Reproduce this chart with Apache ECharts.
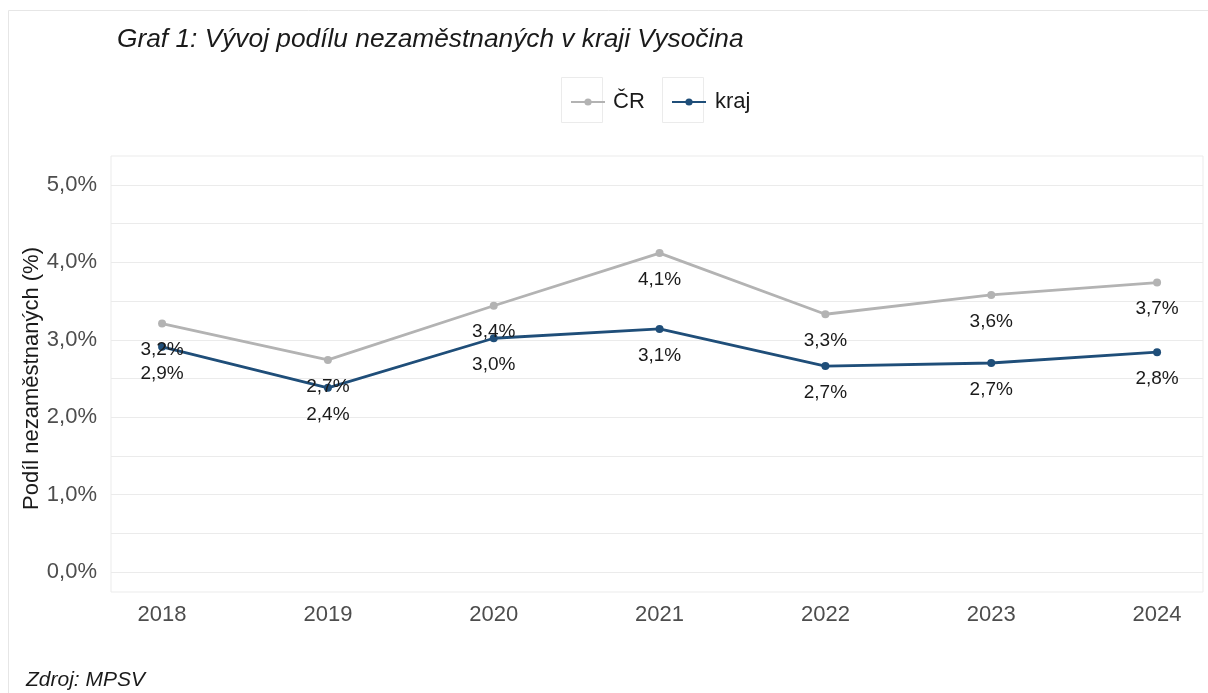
<!DOCTYPE html>
<html>
<head>
<meta charset="utf-8">
<script src="https://cdn.jsdelivr.net/npm/echarts@6/dist/echarts.min.js"></script>
<style>
  html, body { margin: 0; padding: 0; background: #fff; }
  #chart { width: 1208px; height: 693px; }
</style>
</head>
<body>
<div id="chart"></div>
<script>
// roky a podíl nezaměstnaných (%)
var years = [2018, 2019, 2020, 2021, 2022, 2023, 2024]
var crValues = [3.21, 2.74, 3.44, 4.12, 3.33, 3.58, 3.74]
var krajValues = [2.91, 2.38, 3.02, 3.14, 2.66, 2.70, 2.84]
var yTicks = [0, 1, 2, 3, 4, 5]

var fontFamily = 'Liberation Sans, Arial, sans-serif'

function pct(v) {
  return v.toFixed(1).replace('.', ',') + '%'
}

function pairs(vals) {
  return years.map(function (y, i) { return [y, vals[i]] })
}

var chart = echarts.init(document.getElementById('chart'))

var labelOpt = {
  show: true,
  position: 'bottom',
  distance: 13,
  fontSize: 19,
  color: '#1a1a1a',
  formatter: function (p) { return pct(p.value[1]) }
}

chart.setOption({
  animation: false,
  textStyle: { fontFamily: fontFamily },
  title: [{
    text: 'Graf 1: Vývoj podílu nezaměstnaných v kraji Vysočina',
    left: 112,
    top: 22,
    textStyle: { fontSize: 26.3, fontStyle: 'italic', fontWeight: 'normal', color: '#1a1a1a' }
  }, {
    text: 'Zdroj: MPSV',
    left: 21,
    top: 665,
    textStyle: { fontSize: 21, fontStyle: 'italic', fontWeight: 'normal', color: '#1a1a1a' }
  }],
  graphic: [
    // rámeček obrázku
    { type: 'rect', z: -10, shape: { x: 8.5, y: 10.5, width: 1210, height: 690 },
      style: { fill: 'none', stroke: '#e6e6e6', lineWidth: 1 } },
    // rámečky klíčů legendy
    { type: 'rect', z: -5, shape: { x: 561.5, y: 77.5, width: 41, height: 45 },
      style: { fill: '#fff', stroke: '#ebebeb', lineWidth: 1 } },
    { type: 'rect', z: -5, shape: { x: 662.5, y: 77.5, width: 41, height: 45 },
      style: { fill: '#fff', stroke: '#ebebeb', lineWidth: 1 } }
  ],
  legend: [{
    data: ['ČR'],
    left: 565,
    top: 84,
    itemWidth: 34,
    itemHeight: 9,
    textStyle: { fontSize: 22, color: '#1a1a1a', padding: [0, 0, 0, 3], lineHeight: 26 }
  }, {
    data: ['kraj'],
    left: 666,
    top: 84,
    itemWidth: 34,
    itemHeight: 9,
    textStyle: { fontSize: 22, color: '#1a1a1a', padding: [0, 0, 0, 4], lineHeight: 26 }
  }],
  grid: [{
    // datová oblast (osa y 0–5 %)
    left: 111, right: 5, top: 185, bottom: 121
  }, {
    // rámeček panelu
    left: 111, right: 5, top: 156, bottom: 101,
    show: true, borderColor: '#ebebeb', borderWidth: 1, backgroundColor: 'transparent'
  }],
  xAxis: [{
    gridIndex: 0,
    type: 'value',
    min: 2017.692,
    max: 2024.277,
    axisLine: { show: false },
    axisTick: { show: false },
    splitLine: { show: false },
    axisLabel: {
      customValues: years,
      fontSize: 22,
      color: '#4d4d4d',
      margin: 32,
      formatter: function (v) { return String(v) }
    }
  }, {
    gridIndex: 1, type: 'value', show: false
  }],
  yAxis: [{
    gridIndex: 0,
    type: 'value',
    min: 0,
    max: 5,
    interval: 0.5,
    name: 'Podíl nezaměstnaných (%)',
    nameLocation: 'middle',
    nameGap: 68,
    nameMoveOverlap: false,
    nameRotate: 90,
    nameTextStyle: { fontSize: 22, color: '#1a1a1a' },
    axisLine: { show: false },
    axisTick: { show: false },
    splitLine: { lineStyle: { color: '#ebebeb', width: 1 } },
    axisLabel: {
      fontSize: 22,
      color: '#4d4d4d',
      margin: 14,
      formatter: function (v) {
        return yTicks.indexOf(v) >= 0 ? pct(v) : ''
      }
    }
  }, {
    gridIndex: 1, type: 'value', show: false
  }],
  series: [{
    name: 'ČR',
    type: 'line',
    data: pairs(crValues),
    symbol: 'circle',
    symbolSize: 8,
    color: '#b3b3b3',
    lineStyle: { width: 2.8, color: '#b3b3b3' },
    label: labelOpt
  }, {
    name: 'kraj',
    type: 'line',
    data: pairs(krajValues),
    symbol: 'circle',
    symbolSize: 8,
    color: '#1f4e79',
    lineStyle: { width: 2.8, color: '#1f4e79' },
    label: labelOpt
  }]
})
</script>
</body>
</html>
